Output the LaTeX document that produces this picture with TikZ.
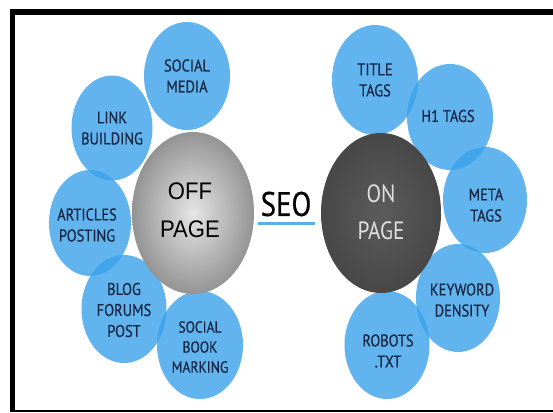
\documentclass[tikz,border=0pt]{standalone}
\usepackage{fontspec}
\usetikzlibrary{shapes.geometric}
\newfontfamily\bluefont[FakeStretch=0.85,FakeBold=0.35]{PT Sans}
\newfontfamily\offfont[FakeStretch=0.92]{Liberation Sans}
\newfontfamily\onfont[FakeStretch=0.85]{PT Sans}
\newfontfamily\seofont[FakeStretch=0.85,FakeBold=0.6]{PT Sans}
\definecolor{bubble}{RGB}{59,162,236}
\definecolor{navytext}{RGB}{24,36,64}
\definecolor{seoblue}{RGB}{90,176,232}
\tikzset{
  bubble/.style={ellipse, inner sep=0pt, fill=bubble, fill opacity=0.8, draw=none,
     minimum width=86pt, minimum height=108pt},
  btext/.style={text=navytext, align=center, inner sep=0pt,
     font={\bluefont\fontsize{17}{21}\selectfont}},
  btextsmall/.style={btext, font={\bluefont\fontsize{16}{20}\selectfont}},
  offball/.style={ellipse, inner sep=0pt, minimum width=122pt, minimum height=162pt,
     shade, inner color=black!10, outer color=black!42},
  onball/.style={ellipse, inner sep=0pt, minimum width=120pt, minimum height=160pt,
     shade, inner color=black!64, outer color=black!72},
  bigtext/.style={align=center, inner sep=0pt},
  frame/.style={fill=black}
}
\begin{document}
\begin{tikzpicture}[x=1pt,y=-1pt]
\useasboundingbox (0,0) rectangle (553,412);
\fill[white] (0,0) rectangle (553,412);
% frame
\fill[frame] (10,9) rectangle (553,15);
\fill[frame] (10,9) rectangle (15,412);
\fill[frame] (10,409.5) rectangle (553,412);

% blue bubbles (left)
\node[bubble] (socialmedia) at (187,76) {};
\node[bubble, minimum width=81pt, minimum height=105pt] (link) at (112,128) {};
\node[bubble, minimum width=82pt, minimum height=106pt] (articles) at (90,223) {};
\node[bubble, minimum width=85pt] (blog) at (124,309) {};
\node[bubble] (socialbook) at (200,345) {};
% blue bubbles (right)
\node[bubble, minimum height=110pt] (title) at (375,80) {};
\node[bubble, minimum height=106pt] (h1) at (450,117) {};
\node[bubble, minimum width=84pt, minimum height=106pt] (meta) at (485,200) {};
\node[bubble, minimum width=84pt] (keyword) at (458,298) {};
\node[bubble, minimum width=85pt] (robots) at (387,345) {};

% central balls
\node[offball] (off) at (193,213) {};
\node[onball] (on) at (381,213) {};

% bubble texts
\node[btext] (t-socialmedia) at (187,76) {SOCIAL\\MEDIA};
\node[btext] (t-link) at (112,128) {LINK\\BUILDING};
\node[btext] (t-articles) at (87,225) {ARTICLES\\POSTING};
\node[btext] (t-blog) at (124,310) {BLOG\\FORUMS\\POST};
\node[btextsmall] (t-socialbook) at (200,347) {SOCIAL\\BOOK\\MARKING};
\node[btext] (t-title) at (375,80) {TITLE\\TAGS};
\node[btext] (t-h1) at (448,116) {H1 TAGS};
\node[btext] (t-meta) at (486,205) {META\\TAGS};
\node[btext] (t-keyword) at (462,300) {KEYWORD\\DENSITY};
\node[btext] (t-robots) at (388,351) {ROBOTS\\.TXT};

% ball texts
\node[bigtext, text=black, font={\offfont\fontsize{24}{38}\selectfont}] (t-off) at (190,210) {OFF\\PAGE};
\node[bigtext, text=black!12, font={\onfont\fontsize{25}{37}\selectfont}] (t-on) at (381,212) {ON\\PAGE};

% SEO
\node[inner sep=0pt, text=black, font={\seofont\fontsize{34}{34}\selectfont}] (seo) at (286,204) {SEO};
\coordinate (ul1) at (258,223.5);
\coordinate (ul2) at (315,223.5);
\draw[seoblue, line width=3.5pt] (ul1) -- (ul2);
\end{tikzpicture}
\end{document}
